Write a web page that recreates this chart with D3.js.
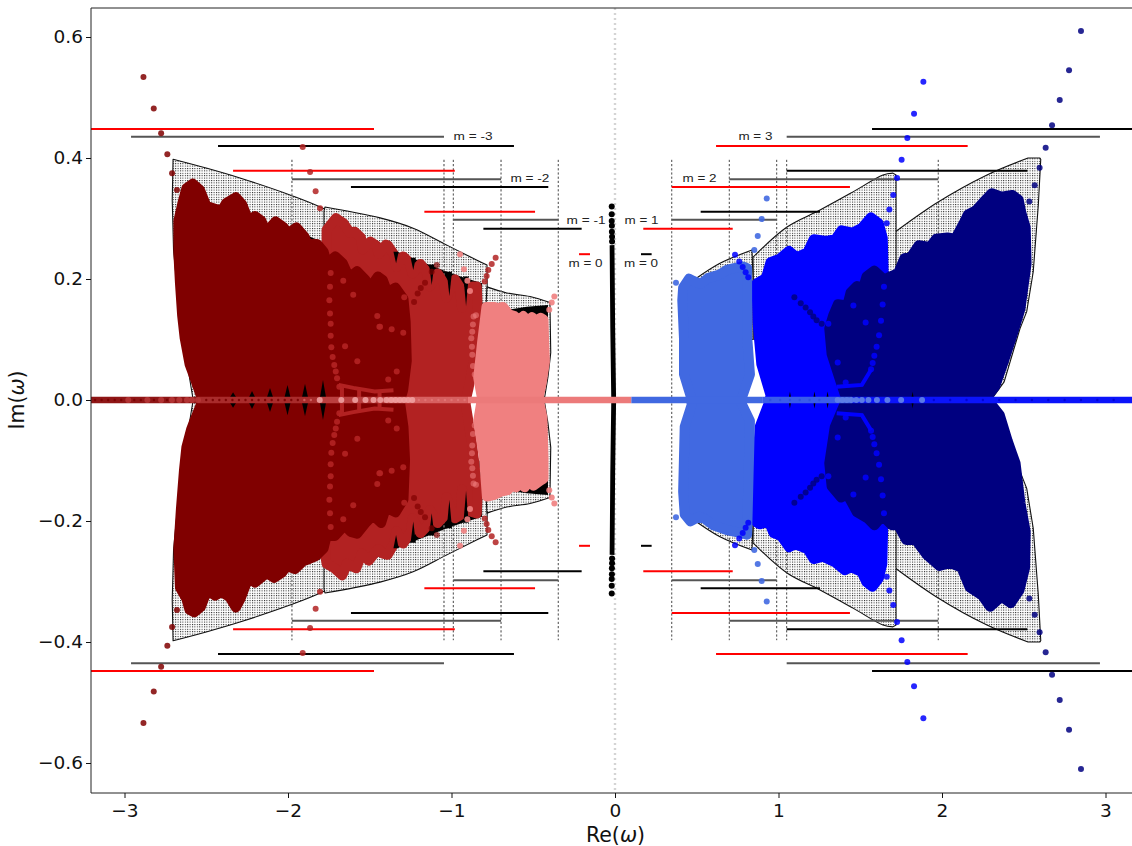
<!DOCTYPE html>
<html><head><meta charset="utf-8">
<script src="https://d3js.org/d3.v7.min.js"></script>
<style>html,body{margin:0;padding:0;background:#fff}svg{display:block}</style>
</head><body><svg id="c" width="1132" height="846"></svg>
<script>
const xTicks=[-3,-2,-1,0,1,2,3];
const yTicks=[-0.6,-0.4,-0.2,0,0.2,0.4,0.6];

// blob outlines: [Re, Im]
const m3Upper=[[-2.548,0],[-2.60,.039],[-2.63,.061],[-2.661,.105],[-2.677,.143],[-2.691,.198],[-2.701,.248],[-2.701,.303],[-2.677,.331],[-2.650,.358],[-2.610,.366],[-2.563,.355],[-2.522,.328],[-2.426,.320],[-2.396,.333],[-2.334,.343],[-2.294,.331],[-2.253,.303],[-2.212,.311],[-2.171,.303],[-2.141,.284],[-2.080,.302],[-2.029,.292],[-2.008,.281],[-1.947,.292],[-1.896,.276],[-1.876,.264],[-1.815,.264],[-1.774,.251],[-1.754,.231],[-1.699,.243],[-1.651,.231],[-1.611,.207],[-1.560,.218],[-1.509,.204],[-1.478,.190],[-1.427,.209],[-1.396,.203],[-1.366,.182],[-1.315,.190],[-1.264,.171],[-1.250,.132],[-1.243,.066],[-1.266,.017],[-1.284,0]];
const m3Lower=[[-2.558,-.008],[-2.60,-.036],[-2.62,-.05],[-2.65,-.08],[-2.665,-.118],[-2.685,-.185],[-2.701,-.251],[-2.691,-.317],[-2.65,-.336],[-2.63,-.355],[-2.60,-.359],[-2.558,-.350],[-2.518,-.322],[-2.467,-.331],[-2.426,-.325],[-2.375,-.333],[-2.334,-.351],[-2.304,-.336],[-2.253,-.300],[-2.212,-.309],[-2.161,-.298],[-2.141,-.292],[-2.090,-.301],[-2.039,-.292],[-2.008,-.281],[-1.957,-.286],[-1.906,-.273],[-1.876,-.270],[-1.824,-.264],[-1.774,-.251],[-1.754,-.229],[-1.702,-.230],[-1.641,-.212],[-1.601,-.223],[-1.560,-.226],[-1.509,-.209],[-1.458,-.195],[-1.407,-.208],[-1.376,-.182],[-1.315,-.190],[-1.264,-.168],[-1.254,-.102],[-1.264,-.046],[-1.284,-.008]];
const m2nUpper=[[-1.794,.05],[-1.794,.264],[-1.794,.289],[-1.733,.309],[-1.682,.300],[-1.641,.284],[-1.611,.286],[-1.570,.276],[-1.560,.256],[-1.509,.269],[-1.468,.262],[-1.454,.248],[-1.407,.264],[-1.396,.263],[-1.356,.248],[-1.339,.226],[-1.295,.244],[-1.254,.234],[-1.234,.215],[-1.182,.231],[-1.142,.218],[-1.121,.193],[-1.070,.215],[-1.029,.198],[-1.013,.174],[-.958,.205],[-.928,.193],[-.911,.157],[-.876,.185],[-.846,.193],[-.815,.193],[-.809,.154],[-.826,.078],[-.868,.021],[-.887,0]];
const m2nLower=[[-1.804,-.05],[-1.804,-.262],[-1.794,-.278],[-1.743,-.286],[-1.692,-.298],[-1.672,-.286],[-1.662,-.278],[-1.601,-.286],[-1.564,-.261],[-1.519,-.273],[-1.458,-.253],[-1.427,-.261],[-1.396,-.263],[-1.356,-.245],[-1.339,-.223],[-1.295,-.244],[-1.243,-.223],[-1.234,-.201],[-1.182,-.226],[-1.131,-.212],[-1.121,-.187],[-1.070,-.209],[-1.020,-.195],[-1.013,-.165],[-.958,-.201],[-.917,-.195],[-.911,-.152],[-.887,-.187],[-.815,-.193],[-.809,-.157],[-.846,-.074],[-.887,-.008]];
const m1nUpper=[[-.842,.005],[-.867,.039],[-.840,.10],[-.809,.162],[-.754,.162],[-.734,.160],[-.693,.162],[-.652,.149],[-.612,.146],[-.581,.140],[-.550,.146],[-.520,.138],[-.489,.144],[-.463,.138],[-.428,.143],[-.408,.140],[-.404,.105],[-.398,.066],[-.422,.028],[-.442,.005]];
const m1nLower=[[-.846,-.005],[-.867,-.036],[-.826,-.102],[-.806,-.168],[-.754,-.165],[-.714,-.160],[-.662,-.157],[-.632,-.149],[-.601,-.152],[-.571,-.145],[-.540,-.152],[-.509,-.140],[-.479,-.149],[-.428,-.140],[-.408,-.137],[-.408,-.102],[-.416,-.030],[-.438,-.003]];
const m1Upper=[[.438,.008],[.393,.044],[.393,.105],[.381,.171],[.387,.193],[.428,.208],[.459,.204],[.510,.199],[.561,.209],[.642,.215],[.693,.223],[.744,.226],[.805,.229],[.836,.226],[.836,.187],[.836,.110],[.856,.044],[.805,.008]];
const m1Lower=[[.447,-.008],[.398,-.046],[.387,-.157],[.398,-.196],[.438,-.208],[.500,-.200],[.540,-.204],[.601,-.215],[.693,-.223],[.795,-.228],[.836,-.231],[.846,-.130],[.856,-.036],[.795,-.005]];
const m2Upper=[[.928,.008],[.867,.061],[.842,.132],[.836,.198],[.897,.207],[.928,.234],[.989,.240],[1.050,.253],[1.101,.242],[1.172,.251],[1.213,.273],[1.295,.270],[1.356,.273],[1.396,.288],[1.468,.284],[1.529,.292],[1.590,.310],[1.641,.300],[1.668,.275],[1.674,.215],[1.674,.006]];
const m2Lower=[[.917,-.005],[.856,-.046],[.830,-.157],[.832,-.207],[.856,-.211],[.917,-.207],[.948,-.226],[.999,-.231],[1.050,-.250],[1.091,-.245],[1.172,-.253],[1.213,-.270],[1.274,-.266],[1.356,-.276],[1.417,-.289],[1.458,-.284],[1.529,-.292],[1.560,-.309],[1.600,-.317],[1.641,-.303],[1.665,-.278],[1.671,-.212],[1.671,-.005]];
const m3pUpper=[[1.386,.005],[1.356,.028],[1.295,.078],[1.280,.121],[1.305,.143],[1.335,.162],[1.396,.160],[1.417,.182],[1.458,.193],[1.498,.190],[1.519,.209],[1.570,.219],[1.631,.204],[1.672,.209],[1.723,.215],[1.763,.240],[1.804,.242],[1.855,.262],[1.927,.259],[1.967,.273],[2.039,.275],[2.090,.273],[2.141,.298],[2.171,.314],[2.222,.321],[2.263,.333],[2.324,.350],[2.385,.344],[2.457,.347],[2.497,.339],[2.514,.317],[2.542,.292],[2.548,.231],[2.508,.154],[2.457,.110],[2.396,.061],[2.344,.022],[2.294,.005]];
const m3pLower=[[1.376,-.008],[1.315,-.046],[1.280,-.107],[1.295,-.146],[1.356,-.165],[1.396,-.160],[1.458,-.190],[1.529,-.201],[1.570,-.212],[1.621,-.196],[1.682,-.212],[1.723,-.212],[1.774,-.237],[1.835,-.237],[1.906,-.262],[1.988,-.281],[2.059,-.276],[2.130,-.284],[2.182,-.317],[2.263,-.331],[2.314,-.350],[2.385,-.333],[2.446,-.344],[2.502,-.322],[2.538,-.284],[2.542,-.223],[2.508,-.174],[2.477,-.107],[2.426,-.069],[2.375,-.025],[2.314,-.005]];

// hatched regions, upper half (mirrored below): arch = curved edge, rest = straight closure
const hatchM3nArch=[[-2.703,.398],[-2.495,.383],[-2.294,.367],[-1.988,.339],[-1.786,.317],[-1.419,.263]];
const hatchM3nRest=[[-1.30,.20],[-1.30,0],[-2.58,0],[-2.66,.132],[-2.70,.248],[-2.708,.330]];
const hatchM2nArch=[[-1.774,.319],[-1.437,.301],[-1.235,.284],[-1.028,.256],[-.844,.231],[-.783,.223]];
const hatchM2nRest=[[-.781,.160],[-1.2,.16],[-1.78,.20],[-1.78,.312]];
const hatchM1nArch=[[-.783,.187],[-.662,.177],[-.52,.171],[-.398,.161]];
const hatchM1nRest=[[-.393,.078],[-.41,.038],[-.43,.005],[-.80,.005],[-.80,.10]];
const hatchM1Arch=[[.502,.202],[.642,.226],[.838,.248]];
const hatchM1Rest=[[.844,.203],[.844,.10],[.502,.10]];
const hatchM2Arch=[[.844,.236],[1.052,.286],[1.254,.314],[1.456,.344],[1.639,.372],[1.700,.375]];
const hatchM2Rest=[[1.719,.372],[1.719,.10],[.85,.10]];
const hatchM3Arch=[[1.670,.269],[1.969,.326],[2.275,.372],[2.526,.400]];
const hatchM3Rest=[[2.599,.400],[2.604,.398],[2.589,.322],[2.558,.212],[2.518,.146],[2.477,.118],[2.38,.03],[2.30,0],[1.67,0],[1.67,.10]];

// black fill showing between lobes
const blackM3n=[[-2.16,.285],[-2.0,.283],[-1.88,.272],[-1.80,.262],[-1.78,.10],[-2.16,.10]];
const blackM2n=[[-1.40,.20],[-1.333,.245],[-1.235,.234],[-1.131,.223],[-1.028,.212],[-.930,.203],[-.813,.193],[-.813,.10],[-1.40,.10]];
const blackM1n=[[-.68,.14],[-.68,.148],[-.54,.154],[-.41,.157],[-.41,.11],[-.68,.11]];
const blackM2=[[.89,.15],[.897,.205],[1.11,.24],[1.17,.25],[1.356,.272],[1.46,.282],[1.6,.29],[1.6,.15]];
const spikeRe=[-1.786,-1.896,-2.003,-2.11,-2.22,-2.336,1.07,1.22,1.30,1.82];
const spikeIm=[.028,.022,.020,.015,.010,.008,.009,.009,.009,.009];
// narrow black gaps between firebrick lobes: Re, Im at top, Im at tip
const gapRe=[-1.339,-1.234,-1.121,-1.013,-.911,-1.339,-1.234,-1.121,-1.013,-.911];
const gapTop=[.245,.235,.224,.212,.204,-.245,-.236,-.224,-.212,-.203];
const gapTip=[.226,.215,.190,.172,.155,-.223,-.201,-.187,-.165,-.150];

// horizontal segments
const segStart=[-3.205,-2.960,-2.428,-2.336,-1.976,-1.615,-1.166,-.989,-.805,-.220,.159,.173,.347,.524,.347,.699,1.050,.618,1.050,1.572];
const segEnd=[-1.474,-1.046,-.618,-.980,-.697,-.408,-.489,-.347,-.204,-.153,.224,.720,.989,1.254,1.437,1.977,2.522,2.157,2.966,3.3];
const segIm=[.448,.435,.420,.379,.365,.352,.311,.298,.283,.241,.241,.283,.298,.311,.352,.365,.379,.420,.435,.448];
const segKind=["red","gray","black","red","gray","black","red","gray","black","red","black","red","gray","black","red","gray","black","red","gray","black"];
const vDashRe=[-1.976,-1.046,-.989,-.697,-.347,.347,.699,.989,1.050,1.977];
const vDashKind=["gray","gray","black","gray","black","black","black","black","black","black"];

// labels
const labelText=["m = -3","m = -2","m = -1","m = 0","m = 0","m = 1","m = 2","m = 3"];
const labelRe=[-.868,-.52,-.177,-.18,.159,.162,.517,.859];
const labelIm=[.437,.367,.298,.227,.227,.298,.367,.437];

// dots
const dotsMaroonOut=[[-2.884,.534],[-2.821,.482],[-2.776,.441],[-2.738,.406],[-2.709,.375],[-2.679,.347]];
const dotsFireOut=[[-1.910,.418],[-1.865,.377],[-1.831,.345],[-1.804,.317],[-.730,.235],[-.754,.225],[-.775,.215],[-.785,.205],[-.797,.196]];
const dotsFireChain=[[-1.739,.210],[-1.743,.187],[-1.747,.165],[-1.743,.143],[-1.739,.126],[-1.739,.106],[-1.735,.087],[-1.727,.071],[-1.717,.058],[-1.708,.047],[-1.700,.036],[-1.686,.022],[-1.662,.197],[-1.601,.174],[-1.454,.139],[-1.441,.121],[-1.651,.089],[-1.576,.064],[-1.437,.121],[-1.366,.117],[-1.295,.111],[-1.335,.047],[-1.387,.034],[-1.289,.170]];
const dotsMaroonChain=[[-1.090,.223],[-1.121,.212],[-1.162,.194],[-1.188,.185],[-1.207,.176],[-1.229,.162]];
const dotsCoralOut=[[-.948,.241],[-.924,.216],[-.903,.197],[-.887,.180],[-.371,.171],[-.387,.161],[-.402,.149]];
const dotsCoralDim=[[-.865,.138],[-.869,.125],[-.873,.113],[-.879,.102],[-.875,.088],[-.873,.075],[-.869,.056],[-.858,.042],[-.85,.14]];
const dotsRoyal=[[.373,.194],[.928,.333],[.897,.299],[.873,.271],[.852,.248]];
const dotsBlue=[[.734,.240],[.760,.229],[.781,.220],[.799,.211],[.815,.203],[1.886,.526],[1.829,.473],[1.788,.433],[1.753,.397],[1.725,.367],[1.702,.339],[1.678,.315],[1.662,.292],[1.645,.187],[1.637,.158],[1.627,.131],[1.615,.107],[1.600,.088],[1.586,.073],[1.576,.061],[1.566,.051],[1.458,.156],[1.533,.128],[1.362,.062],[1.411,.029],[1.305,.126]];
const dotsNavy=[[2.850,.610],[2.777,.545],[2.720,.496],[2.673,.454],[2.634,.417],[2.597,.384],[2.567,.355],[2.534,.328],[1.097,.170],[1.136,.160],[1.166,.153],[1.193,.145],[1.213,.138],[1.233,.132],[1.264,.126]];
const dotsBlack=[[-.020,.320],[-.020,.307],[-.020,.296],[-.019,.288],[-.019,.278],[-.018,.270],[-.018,.262]];
const spineBlack=[[-.018,.256],[-.014,.12],[-.008,0]];

// connecting dot chains drawn as thick lines
const fireTrident=[[[-1.69,.025],[-1.6,.020],[-1.47,.014],[-1.355,.016]],[[-1.67,.022],[-1.67,0]],[[-1.565,.019],[-1.565,0]],[[-1.44,.014],[-1.44,0]]];
const blueTrident=[[[1.566,.05],[1.51,.025],[1.356,.022]]];

// axis band
const bandStart=[-3.25,-2.55,-1.80,-1.40,-.90,.10,.9,1.45];
const bandEnd=[-2.55,-1.80,-1.40,-.90,.10,.9,1.45,3.25];
const bandColor=["#8f1616","#a92b2b","#bb3f3f","#d76060","#ec7a7a","#4169e1","#3a5cea","#0b14fa"];
const bandLightRe=[-1.806,-1.674,-1.589,-1.526,-1.477,-1.436,-1.399,-1.369,-1.342,-1.315,-1.29,-1.265,-1.24];
const bandFireRe=[-2.977,-2.86,-2.776,-2.71,-2.665,-2.618,-2.587,-2.55];
const bandRoyalRe=[1.878,1.75,1.666,1.602,1.55,1.51,1.476,1.446,1.418,1.39,1.362];
const bandTinyRe=[-3.18,-3.14,-3.10,-3.06,-3.02,-2.94,-2.90,-2.82,-2.74,-2.50,-2.46,-2.42,-2.38,-2.34,-2.30,-2.26,-2.22,-2.18,-2.14,-2.10,-2.06,-2.02,-1.98,-1.94,-1.90,-1.86,-1.20,-1.16,-1.12,-1.08,-1.04,-1.00,-.96,-.92,-.88,-.84];
const bandTinyBlueRe=[.95,1.01,1.07,1.13,1.19,1.25,1.95,2.05,2.15,2.25,2.35,2.45,2.55,2.65,2.75,2.85,2.95,3.05];

const svg=d3.select("#c");
const L=91,R=1132,T=8,B=793;
const x=d3.scaleLinear().domain([-3,3]).range([124.5,1105.5]);
const y=d3.scaleLinear().domain([-.6,.6]).range([763,37]);
const defs=svg.append("defs");
defs.append("clipPath").attr("id","cp").append("rect").attr("x",L).attr("y",T).attr("width",R-L).attr("height",B-T);
const pat=defs.append("pattern").attr("id","hatch").attr("patternUnits","userSpaceOnUse").attr("width",2.4).attr("height",2.4);
pat.append("rect").attr("width",2.4).attr("height",2.4).attr("fill","#fff");
pat.append("rect").attr("width",1).attr("height",1).attr("fill","#111");

const g=svg.append("g").attr("clip-path","url(#cp)");
const lin=d3.line().x(d=>x(d[0])).y(d=>y(d[1]));
const arch=d3.line().x(d=>x(d[0])).y(d=>y(d[1])).curve(d3.curveCatmullRom.alpha(.5));
const flip=a=>a.map(d=>[d[0],-d[1]]);

// zero line
g.append("line").attr("x1",x(0)).attr("x2",x(0)).attr("y1",T).attr("y2",B).attr("stroke","#d4d4d4").attr("stroke-width",2.4).attr("stroke-dasharray","2,3");

// hatch: curved arch joined to straight closure
[[hatchM3nArch,hatchM3nRest],[hatchM3Arch,hatchM3Rest],[hatchM2nArch,hatchM2nRest],[hatchM2Arch,hatchM2Rest],[hatchM1nArch,hatchM1nRest],[hatchM1Arch,hatchM1Rest]].forEach(([a,r])=>{
  [[a,r],[flip(a),flip(r)]].forEach(([pa,pr])=>{
    const d=arch(pa)+"L"+lin(pr).slice(1)+"Z";
    g.append("path").attr("d",d).attr("fill","url(#hatch)").attr("stroke","#111").attr("stroke-width",1.1).attr("stroke-linejoin","round");
  });
});
// black
[blackM3n,blackM2n,blackM1n,blackM2].forEach(h=>{
  [h,flip(h)].forEach(p=>g.append("path").attr("d",lin(p)+"Z").attr("fill","#000"));
});
// verticals
g.selectAll(".vd").data(vDashRe).join("line").attr("class","vd").attr("x1",d=>x(d)).attr("x2",d=>x(d)).attr("y1",y(.397)).attr("y2",y(-.397))
 .attr("stroke",(d,i)=>vDashKind[i]=="gray"?"#777":"#333").attr("stroke-width",(d,i)=>vDashKind[i]=="gray"?1.4:.9).attr("stroke-dasharray","2.2,2");
// horizontals, both half-planes
const segColor={red:"#ff0000",gray:"#555555",black:"#000000"};
[1,-1].forEach(s=>{
  g.selectAll(".h"+(s>0?"u":"l")).data(segStart).join("line").attr("class","h"+(s>0?"u":"l"))
   .attr("x1",d=>x(d)).attr("x2",(d,i)=>x(segEnd[i])).attr("y1",(d,i)=>y(s*segIm[i])).attr("y2",(d,i)=>y(s*segIm[i]))
   .attr("stroke",(d,i)=>segColor[segKind[i]]).attr("stroke-width",2);
});
// blobs: a straight outline inflated by a round-joined stroke gives round lobes and cusped valleys
const inflate=10;
function blob(u,l,c){
  const pts=u.concat(l.slice().reverse());
  const xs=pts.map(d=>x(d[0])),ys=pts.map(d=>y(d[1]));
  const cx=(d3.min(xs)+d3.max(xs))/2,cy=y(0);
  const hw=(d3.max(xs)-d3.min(xs))/2,hh=(d3.max(ys)-d3.min(ys))/2;
  const sx=(hw-inflate/2)/hw,sy=(hh-inflate/2)/hh;
  const path=d3.line().x(d=>cx+(x(d[0])-cx)*sx).y(d=>cy+(y(d[1])-cy)*sy);
  g.append("path").attr("d",path(pts)+"Z").attr("fill",c).attr("stroke",c).attr("stroke-width",inflate).attr("stroke-linejoin","round");
}
blob(m2nUpper,m2nLower,"#b22222");
// gaps over firebrick
gapRe.forEach((r,i)=>g.append("path").attr("d",lin([[r-.016,gapTop[i]],[r,gapTip[i]],[r+.016,gapTop[i]]])+"Z").attr("fill","#000"));
blob(m3Upper,m3Lower,"#800000");
blob(m1nUpper,m1nLower,"#f08080");
blob(m2Upper,m2Lower,"#0000ff");
blob(m1Upper,m1Lower,"#4169e1");
blob(m3pUpper,m3pLower,"#000080");
// spikes
spikeRe.forEach((r,i)=>{
  [1,-1].forEach(s=>{
    const w=i<6?.018:.006;
    g.append("path").attr("d",lin([[r-w,s*.005],[r,s*spikeIm[i]*1.0+s*.005],[r+w,s*.005]])+"Z").attr("fill","#000");
  });
});
// tridents
[[fireTrident,"#b22222"],[blueTrident,"#0000ff"]].forEach(([set,c])=>{
  set.forEach(p=>{[p,flip(p)].forEach(q=>g.append("path").attr("d",lin(q)).attr("fill","none").attr("stroke",c).attr("stroke-width",4));});
});
// dots
function dots(a,c,o,r){[a,flip(a)].forEach(p=>{
  p.forEach(d=>g.append("circle").attr("cx",x(d[0])).attr("cy",y(d[1])).attr("r",r||3).attr("fill",c).attr("fill-opacity",o));
});}
dots(dotsMaroonOut,"#800000",.85);
dots(dotsFireOut,"#b22222",.85);
dots(dotsFireChain,"#b22222",.9);
dots(dotsMaroonChain,"#800000",.7);
dots(dotsCoralOut,"#f08080",.9);
dots(dotsCoralDim,"#f08080",.55);
dots(dotsRoyal,"#4169e1",.9);
dots(dotsBlue,"#0000ff",.85);
dots(dotsNavy,"#000080",.85);
// central column
[spineBlack,flip(spineBlack)].forEach(p=>g.append("path").attr("d",lin(p)).attr("fill","none").attr("stroke","#000").attr("stroke-width",4.8));
dots(dotsBlack,"#000",1,3);
// band on axis
g.selectAll(".band").data(bandStart).join("line").attr("class","band").attr("x1",d=>x(d)).attr("x2",(d,i)=>x(bandEnd[i])).attr("y1",y(0)).attr("y2",y(0))
 .attr("stroke",(d,i)=>bandColor[i]).attr("stroke-width",6.6);
bandTinyRe.forEach(r=>g.append("circle").attr("cx",x(r)).attr("cy",y(0)).attr("r",1.2).attr("fill",r<-1.9?"#7a0000":"#e88080").attr("fill-opacity",r<-1.9?.9:.6));
bandTinyBlueRe.forEach(r=>g.append("circle").attr("cx",x(r)).attr("cy",y(0)).attr("r",1.2).attr("fill",r<1.5?"#2a4fe0":"#0000c8").attr("fill-opacity",.8));
bandFireRe.forEach(r=>g.append("circle").attr("cx",x(r)).attr("cy",y(0)).attr("r",3).attr("fill","#b83838").attr("fill-opacity",.85));
bandLightRe.forEach(r=>g.append("circle").attr("cx",x(r)).attr("cy",y(0)).attr("r",3).attr("fill","#f0a0a0").attr("fill-opacity",.9));
bandRoyalRe.forEach(r=>g.append("circle").attr("cx",x(r)).attr("cy",y(0)).attr("r",3).attr("fill","#5f80e6").attr("fill-opacity",.95));
// labels
g.selectAll(".lab").data(labelText).join("text").attr("class","lab").attr("x",(d,i)=>x(labelRe[i])).attr("y",(d,i)=>y(labelIm[i])+4)
 .attr("text-anchor","middle").attr("font-family","'Liberation Sans',sans-serif").attr("font-size",10.5).attr("fill","#222")
 .attr("textLength",(d)=>d.length>5?39:34).attr("lengthAdjust","spacingAndGlyphs").text(d=>d);

// frame and axes
svg.append("path").attr("d",`M${L},${T}H${R+2}M${L},${T}V${B}H${R+2}`).attr("fill","none").attr("stroke","#222").attr("stroke-width",1);
const fmt=d=>String(d).replace("-","\u2212");
const xa=svg.append("g").attr("transform",`translate(0,${B})`).call(d3.axisBottom(x).tickValues(xTicks).tickSize(5).tickPadding(6).tickFormat(d=>fmt(d)));
const ya=svg.append("g").attr("transform",`translate(${L},0)`).call(d3.axisLeft(y).tickValues(yTicks).tickSize(5).tickPadding(3).tickFormat(d=>fmt(d3.format(".1f")(d))));
[xa,ya].forEach(a=>{a.select(".domain").remove();a.selectAll("text").attr("font-family","'DejaVu Sans'").attr("font-size",18.5).attr("fill","#111");a.selectAll("line").attr("stroke","#111");});
// axis titles
const xt=svg.append("text").attr("x",615.5).attr("y",842).attr("text-anchor","middle").attr("font-family","'DejaVu Sans'").attr("font-size",20.5).attr("fill","#111");
xt.append("tspan").text("Re(");xt.append("tspan").attr("font-style","italic").text("\u03c9");xt.append("tspan").text(")");
const yt=svg.append("text").attr("transform",`translate(24,400) rotate(-90)`).attr("text-anchor","middle").attr("font-family","'DejaVu Sans'").attr("font-size",20.5).attr("fill","#111");
yt.append("tspan").text("Im(");yt.append("tspan").attr("font-style","italic").text("\u03c9");yt.append("tspan").text(")");
</script></body></html>
